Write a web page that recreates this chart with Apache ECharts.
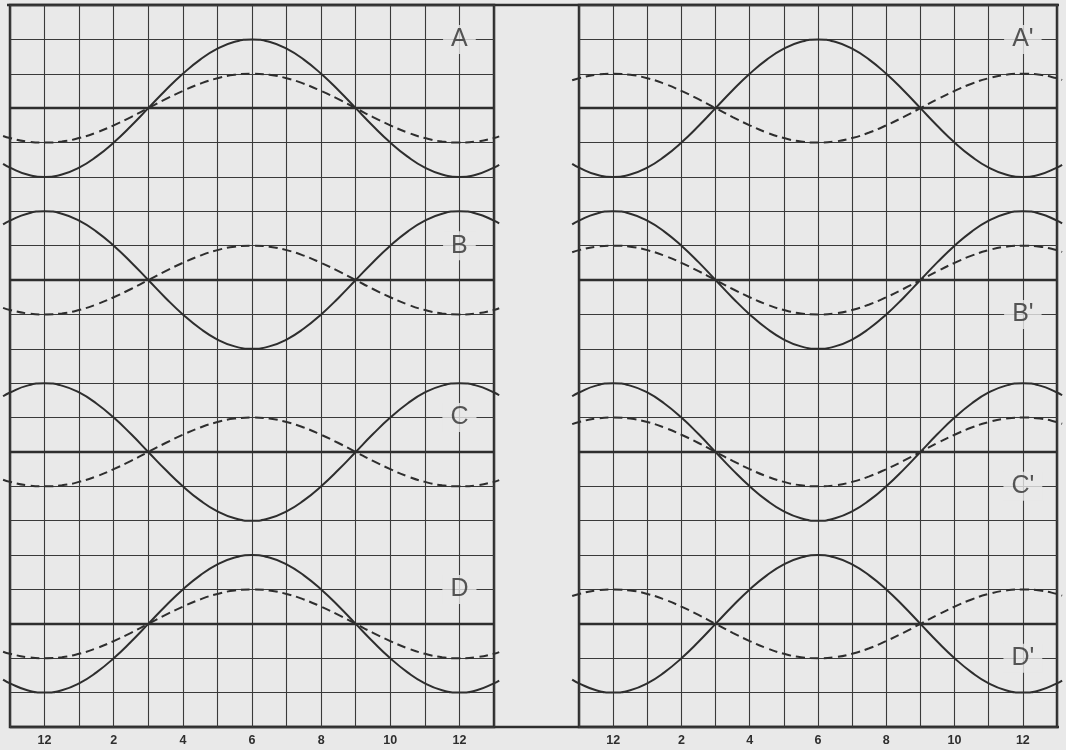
<!DOCTYPE html>
<html>
<head>
<meta charset="utf-8">
<script src="https://cdn.jsdelivr.net/npm/echarts@6/dist/echarts.min.js"></script>
<style>
  html, body { margin: 0; padding: 0; background: #e9e9e9; }
  #chart { width: 1066px; height: 750px; }
</style>
</head>
<body>
<div id="chart"></div>
<script>
// Hour of day (12 = midnight at 0 and 12), sampled every half hour
const hours = [-1.2, -1, -0.5, 0, 0.5, 1, 1.5, 2, 2.5, 3, 3.5, 4, 4.5, 5, 5.5, 6, 6.5, 7, 7.5, 8, 8.5, 9, 9.5, 10, 10.5, 11, 11.5, 12, 12.5, 13, 13.15];

// Curve offsets from each pair's centre line, in grid squares
const solidHighAtMidnight = [1.62, 1.73, 1.93, 2, 1.93, 1.73, 1.41, 1, 0.52, 0, -0.52, -1, -1.41, -1.73, -1.93, -2, -1.93, -1.73, -1.41, -1, -0.52, 0, 0.52, 1, 1.41, 1.73, 1.93, 2, 1.93, 1.73, 1.65];
const solidHighAtNoon = [-1.62, -1.73, -1.93, -2, -1.93, -1.73, -1.41, -1, -0.52, 0, 0.52, 1, 1.41, 1.73, 1.93, 2, 1.93, 1.73, 1.41, 1, 0.52, 0, -0.52, -1, -1.41, -1.73, -1.93, -2, -1.93, -1.73, -1.65];
const dashHighAtMidnight = [0.81, 0.87, 0.97, 1, 0.97, 0.87, 0.71, 0.5, 0.26, 0, -0.26, -0.5, -0.71, -0.87, -0.97, -1, -0.97, -0.87, -0.71, -0.5, -0.26, 0, 0.26, 0.5, 0.71, 0.87, 0.97, 1, 0.97, 0.87, 0.82];
const dashHighAtNoon = [-0.81, -0.87, -0.97, -1, -0.97, -0.87, -0.71, -0.5, -0.26, 0, 0.26, 0.5, 0.71, 0.87, 0.97, 1, 0.97, 0.87, 0.71, 0.5, 0.26, 0, -0.26, -0.5, -0.71, -0.87, -0.97, -1, -0.97, -0.87, -0.82];

// Centre lines of the four pairs (grid rows counted from the bottom)
const centreRows = [18, 13, 8, 3];

// Left panel
const leftNames = ['A', 'B', 'C', 'D'];
const leftLabelRows = [20, 14, 9, 4];
const leftSolid = [solidHighAtNoon, solidHighAtMidnight, solidHighAtMidnight, solidHighAtNoon];
const leftDashed = [dashHighAtNoon, dashHighAtNoon, dashHighAtNoon, dashHighAtNoon];

// Right panel
const rightNames = ["A'", "B'", "C'", "D'"];
const rightLabelRows = [20, 12, 7, 2];
const rightSolid = [solidHighAtNoon, solidHighAtMidnight, solidHighAtMidnight, solidHighAtNoon];
const rightDashed = [dashHighAtMidnight, dashHighAtMidnight, dashHighAtMidnight, dashHighAtMidnight];

// Tick labels
const tickHours = [0, 2, 4, 6, 8, 10, 12];
const tickLabels = ['12', '2', '4', '6', '8', '10', '12'];
const labelHour = 12;

const BG = '#e9e9e9';
const INK = '#2e2e2e';
const GRIDC = '#3a3a3a';

// panel geometry: framed grid spans hours -1..13; curve grid spans -1.25..13.25 at the same scale
const panels = [
  { left: 10, width: 484 },
  { left: 579, width: 478 }
];
const TOP = 5, HEIGHT = 722;
const EXT = 0.25;

const grids = [], xAxes = [], yAxes = [];
panels.forEach((p, i) => {
  const pxPerHour = p.width / 14;
  grids.push({ left: p.left, top: TOP, width: p.width, height: HEIGHT, show: true, borderColor: INK, borderWidth: 2.5, backgroundColor: 'transparent' });
  xAxes.push({
    gridIndex: 2 * i, type: 'value', min: -1, max: 13, interval: 1,
    axisLine: { show: false }, axisTick: { show: false },
    splitLine: { show: true, lineStyle: { color: GRIDC, width: 1.1 } },
    axisLabel: {
      margin: 7, fontSize: 12.5, fontWeight: 'bold', color: INK, fontFamily: 'Liberation Sans',
      formatter: v => { const k = tickHours.indexOf(v); return k >= 0 ? tickLabels[k] : ''; }
    }
  });
  yAxes.push({
    gridIndex: 2 * i, type: 'value', min: 0, max: 21, interval: 1,
    axisLine: { show: false }, axisTick: { show: false }, axisLabel: { show: false },
    splitLine: { show: true, lineStyle: { color: GRIDC, width: 1.1 } }
  });
  // wider, invisible grid used for the curves so they run a little past the frame
  grids.push({ left: p.left - EXT * pxPerHour, top: TOP, width: p.width + 2 * EXT * pxPerHour, height: HEIGHT, show: false });
  xAxes.push({ gridIndex: 2 * i + 1, type: 'value', min: -1 - EXT, max: 13 + EXT, show: false, splitLine: { show: false } });
  yAxes.push({ gridIndex: 2 * i + 1, type: 'value', min: 0, max: 21, show: false, splitLine: { show: false } });
});

const series = [];
function addPanel(i, names, labelRows, solids, dasheds) {
  const frame = 2 * i, curves = 2 * i + 1;
  series.push({
    type: 'line', xAxisIndex: frame, yAxisIndex: frame, data: [], silent: true,
    markLine: {
      silent: true, symbol: 'none', label: { show: false },
      lineStyle: { color: INK, width: 2.3, type: 'solid' },
      data: centreRows.map(r => ({ yAxis: r }))
    }
  });
  names.forEach((n, p) => {
    series.push({
      type: 'line', xAxisIndex: curves, yAxisIndex: curves, smooth: true, showSymbol: false, silent: true,
      lineStyle: { color: INK, width: 2, type: [9, 5] },
      data: hours.map((h, k) => [h, centreRows[p] + dasheds[p][k]])
    });
    series.push({
      type: 'line', xAxisIndex: curves, yAxisIndex: curves, smooth: true, showSymbol: false, silent: true,
      lineStyle: { color: INK, width: 2, type: 'solid' },
      data: hours.map((h, k) => [h, centreRows[p] + solids[p][k]])
    });
  });
  series.push({
    type: 'scatter', xAxisIndex: frame, yAxisIndex: frame, symbolSize: 1, silent: true, z: 10,
    itemStyle: { color: 'rgba(0,0,0,0)' },
    data: names.map((n, p) => ({ name: n, value: [labelHour, labelRows[p]] })),
    label: {
      show: true, position: 'inside', formatter: '{b}', fontSize: 25, color: INK,
      fontFamily: 'Liberation Sans', backgroundColor: BG, padding: [1, 8], lineHeight: 27
    }
  });
}
addPanel(0, leftNames, leftLabelRows, leftSolid, leftDashed);
addPanel(1, rightNames, rightLabelRows, rightSolid, rightDashed);

const chart = echarts.init(document.getElementById('chart'), null, { renderer: 'canvas' });
chart.setOption({
  backgroundColor: BG,
  animation: false,
  grid: grids,
  xAxis: xAxes,
  yAxis: yAxes,
  graphic: [
    { type: 'line', shape: { x1: 7, y1: 5, x2: 1059, y2: 5 }, style: { stroke: INK, lineWidth: 2.5 }, silent: true },
    { type: 'line', shape: { x1: 10, y1: 727, x2: 1059, y2: 727 }, style: { stroke: INK, lineWidth: 2.5 }, silent: true }
  ],
  series: series
});
</script>
</body>
</html>
